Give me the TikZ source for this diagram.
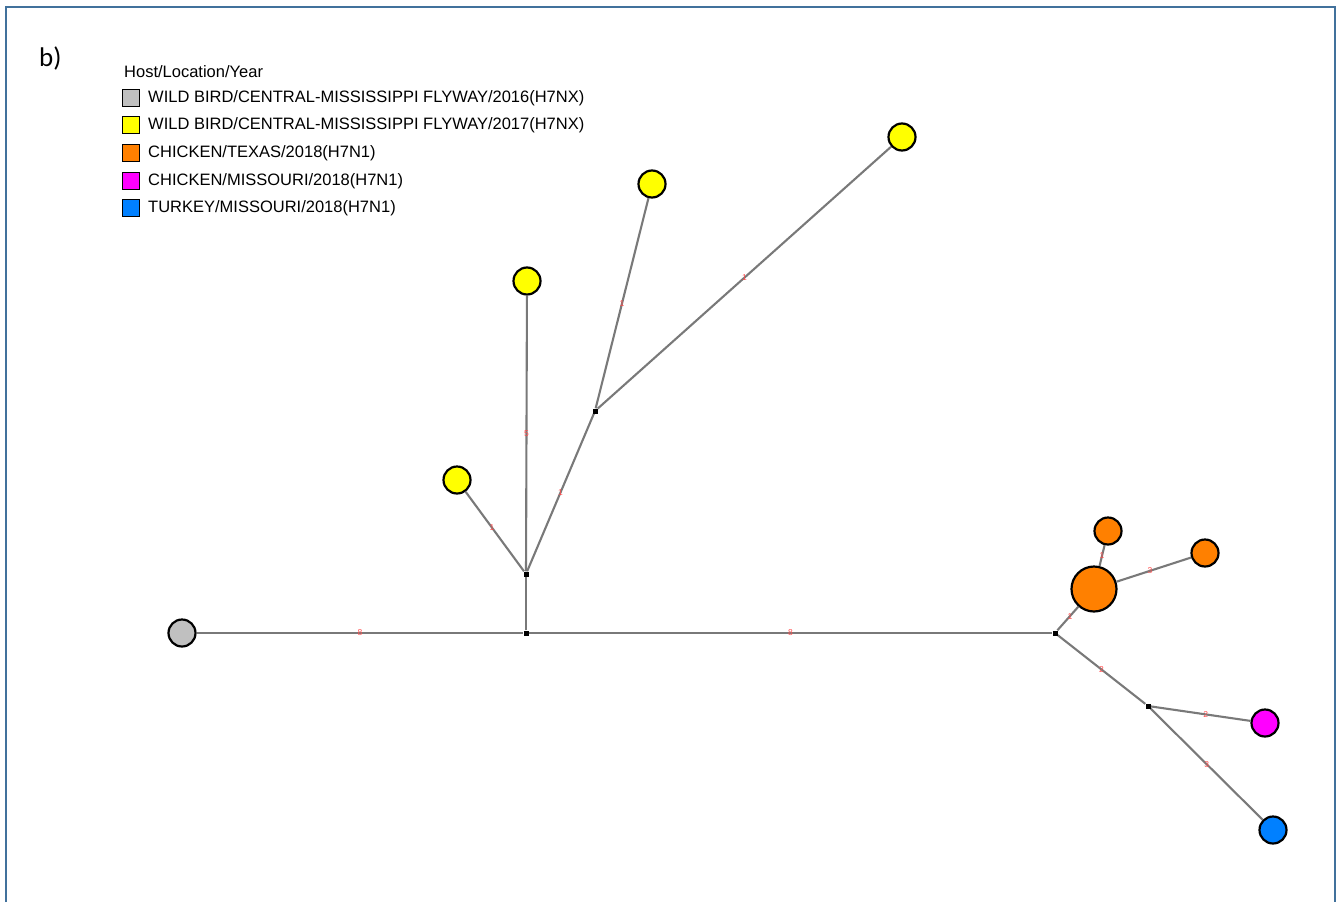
\documentclass[tikz,border=0pt]{standalone}
\usepackage{fontspec}
\setmainfont{Liberation Sans}
\newfontfamily\calib{Carlito}
\begin{document}
\begin{tikzpicture}[x=1pt,y=-1pt,
  edge/.style={draw=gray!95!black,line width=2.1pt},
  hap/.style={circle,draw=black,line width=2.2pt,inner sep=0pt,minimum size=#1},
  hap/.default=27pt,
  junc/.style={rectangle,fill=black,inner sep=0pt,minimum size=5pt},
  mut/.style={text=red!70,font=\fontsize{8.5}{9}\selectfont,inner sep=0pt},
  legbox/.style={rectangle,draw=black,line width=1.8pt,minimum size=17pt,inner sep=0pt},
  legtxt/.style={anchor=west,font=\fontsize{16.5}{18}\selectfont,inner sep=0pt}]
\useasboundingbox (0,0) rectangle (1338,902);
\definecolor{frameblue}{RGB}{65,113,156}
\definecolor{hgray}{RGB}{192,192,192}
\definecolor{hyellow}{RGB}{255,255,0}
\definecolor{horange}{RGB}{255,128,0}
\definecolor{hmag}{RGB}{255,0,255}
\definecolor{hblue}{RGB}{0,128,255}
\draw[frameblue,line width=2.5pt] (6,902) -- (6,7) -- (1335,7) -- (1335,902);
% title
\node[anchor=north west,inner sep=0pt,font=\calib\fontsize{27}{30}\selectfont] (lab) at (39,47) {b)};
% legend
\node[legtxt] (lt) at (124,72) {Host/Location/Year};
\node[legbox,fill=hgray] (l1) at (131,98) {};
\node[legtxt] (t1) at (148,98) {WILD BIRD/CENTRAL-MISSISSIPPI FLYWAY/2016(H7NX)};
\node[legbox,fill=hyellow] (l2) at (131,125) {};
\node[legtxt] (t2) at (148,125) {WILD BIRD/CENTRAL-MISSISSIPPI FLYWAY/2017(H7NX)};
\node[legbox,fill=horange] (l3) at (131,153) {};
\node[legtxt] (t3) at (148,153) {CHICKEN/TEXAS/2018(H7N1)};
\node[legbox,fill=hmag] (l4) at (131,181) {};
\node[legtxt] (t4) at (148,181) {CHICKEN/MISSOURI/2018(H7N1)};
\node[legbox,fill=hblue] (l5) at (131,208) {};
\node[legtxt] (t5) at (148,208) {TURKEY/MISSOURI/2018(H7N1)};
% junctions
\node[junc] (j1) at (526,633) {};
\node[junc] (j2) at (526,574) {};
\node[junc] (j3) at (595,411) {};
\node[junc] (j4) at (1055,633) {};
\node[junc] (j5) at (1148,706) {};
% haplotypes
\node[hap,fill=hgray] (g) at (182,633) {};
\node[hap,fill=hyellow] (y1) at (457,480) {};
\node[hap,fill=hyellow] (y2) at (527,281) {};
\node[hap,fill=hyellow] (y3) at (652,184) {};
\node[hap,fill=hyellow] (y4) at (902,137) {};
\node[hap=45pt,fill=horange] (o1) at (1094,589) {};
\node[hap,fill=horange] (o2) at (1108,531) {};
\node[hap,fill=horange] (o3) at (1205,553) {};
\node[hap,fill=hmag] (m) at (1265,723) {};
\node[hap,fill=hblue] (b) at (1273,830) {};
% edges
\draw[edge] (g) -- node[mut]{8} (j1);
\draw[edge] (j1) -- node[mut]{8} (j4);
\draw[edge] (j1) -- (j2);
\draw[edge] (j2) -- node[mut,pos=0.55]{1} (y1);
\draw[edge] (j2) -- node[mut,pos=0.5]{5} (y2);
\draw[edge] (j2) -- node[mut]{1} (j3);
\draw[edge] (j3) -- node[mut,pos=0.5]{1} (y3);
\draw[edge] (j3) -- node[mut,pos=0.5]{1} (y4);
\draw[edge] (j4) -- node[mut,pos=0.6]{1} (o1);
\draw[edge] (o1) -- node[mut,pos=0.5]{1} (o2);
\draw[edge] (o1) -- node[mut,pos=0.45]{3} (o3);
\draw[edge] (j4) -- node[mut]{2} (j5);
\draw[edge] (j5) -- node[mut,pos=0.55]{2} (m);
\draw[edge] (j5) -- node[mut,pos=0.5]{3} (b);
% redraw junction dots over edges
\node[junc] at (j1) {};
\node[junc] at (j2) {};
\node[junc] at (j3) {};
\node[junc] at (j4) {};
\node[junc] at (j5) {};
\end{tikzpicture}
\end{document}
